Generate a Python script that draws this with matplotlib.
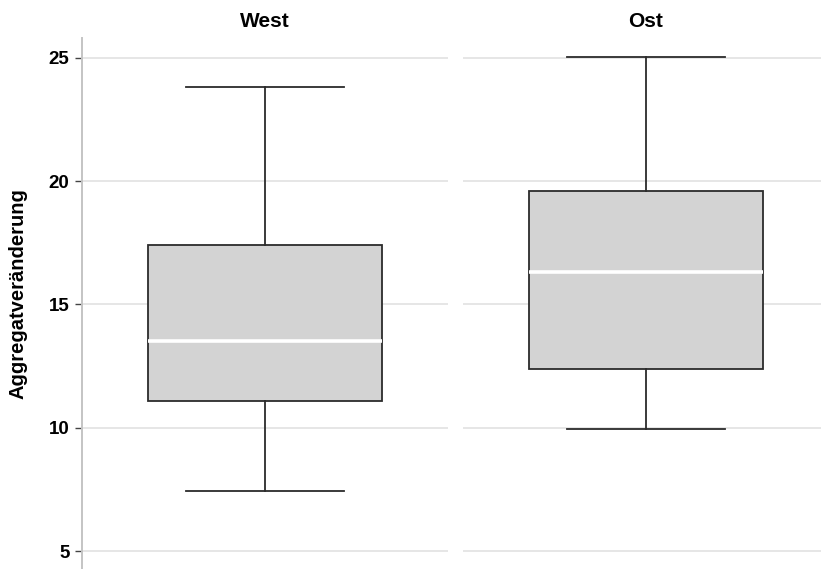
import numpy as np
import matplotlib
matplotlib.use('Agg')
import matplotlib.pyplot as plt

plt.rcParams['font.family'] = ['Liberation Sans', 'DejaVu Sans']
plt.rcParams['font.weight'] = 'bold'

# Box summaries per region
regions = ['West', 'Ost']
whislo = [7.43, 9.95]
q1 = [11.09, 12.38]
med = [13.52, 16.32]
q3 = [17.41, 19.60]
whishi = [23.82, 25.05]
yticks = [5, 10, 15, 20, 25]

fig = plt.figure(figsize=(8.21, 5.69), dpi=100)
W, H = 821, 569
panels = [(82, 366), (463, 366)]
top_px = 38

for i, name in enumerate(regions):
    left, width = panels[i]
    ax = fig.add_axes([left / W, 0, width / W, 1 - top_px / H])
    stats = [dict(med=med[i], q1=q1[i], q3=q3[i], whislo=whislo[i],
                  whishi=whishi[i], fliers=[])]
    ax.bxp(stats, positions=[0.5], widths=0.642, capwidths=0.43,
           patch_artist=True, showfliers=False,
           boxprops=dict(facecolor='#d3d3d3', edgecolor='#2b2b2b', linewidth=1.3),
           whiskerprops=dict(color='#2b2b2b', linewidth=1.3),
           capprops=dict(color='#2b2b2b', linewidth=1.3),
           medianprops=dict(color='white', linewidth=2.6))
    ax.set_xlim(0, 1)
    ax.set_ylim(4.27, 25.81)
    ax.set_yticks(yticks)
    ax.set_xticks([])
    ax.grid(axis='y', color='#e6e6e6', linewidth=1.4)
    ax.set_axisbelow(True)
    for s in ['top', 'right', 'bottom']:
        ax.spines[s].set_visible(False)
    if i == 0:
        ax.spines['left'].set_color('#c4c4c4')
        ax.spines['left'].set_linewidth(1.4)
        ax.tick_params(axis='y', length=5, width=1.0, color='#444444',
                       labelsize=13.5, pad=4)
        ax.set_ylabel('Aggregatveränderung', fontsize=14.5, fontweight='bold')
        ax.yaxis.set_label_coords(-0.15, 0.518)
    else:
        ax.spines['left'].set_visible(False)
        ax.tick_params(axis='y', length=0, labelleft=False)
    ax.set_title(name, fontsize=15, fontweight='bold', pad=8)

fig.savefig('out.png', dpi=100)
